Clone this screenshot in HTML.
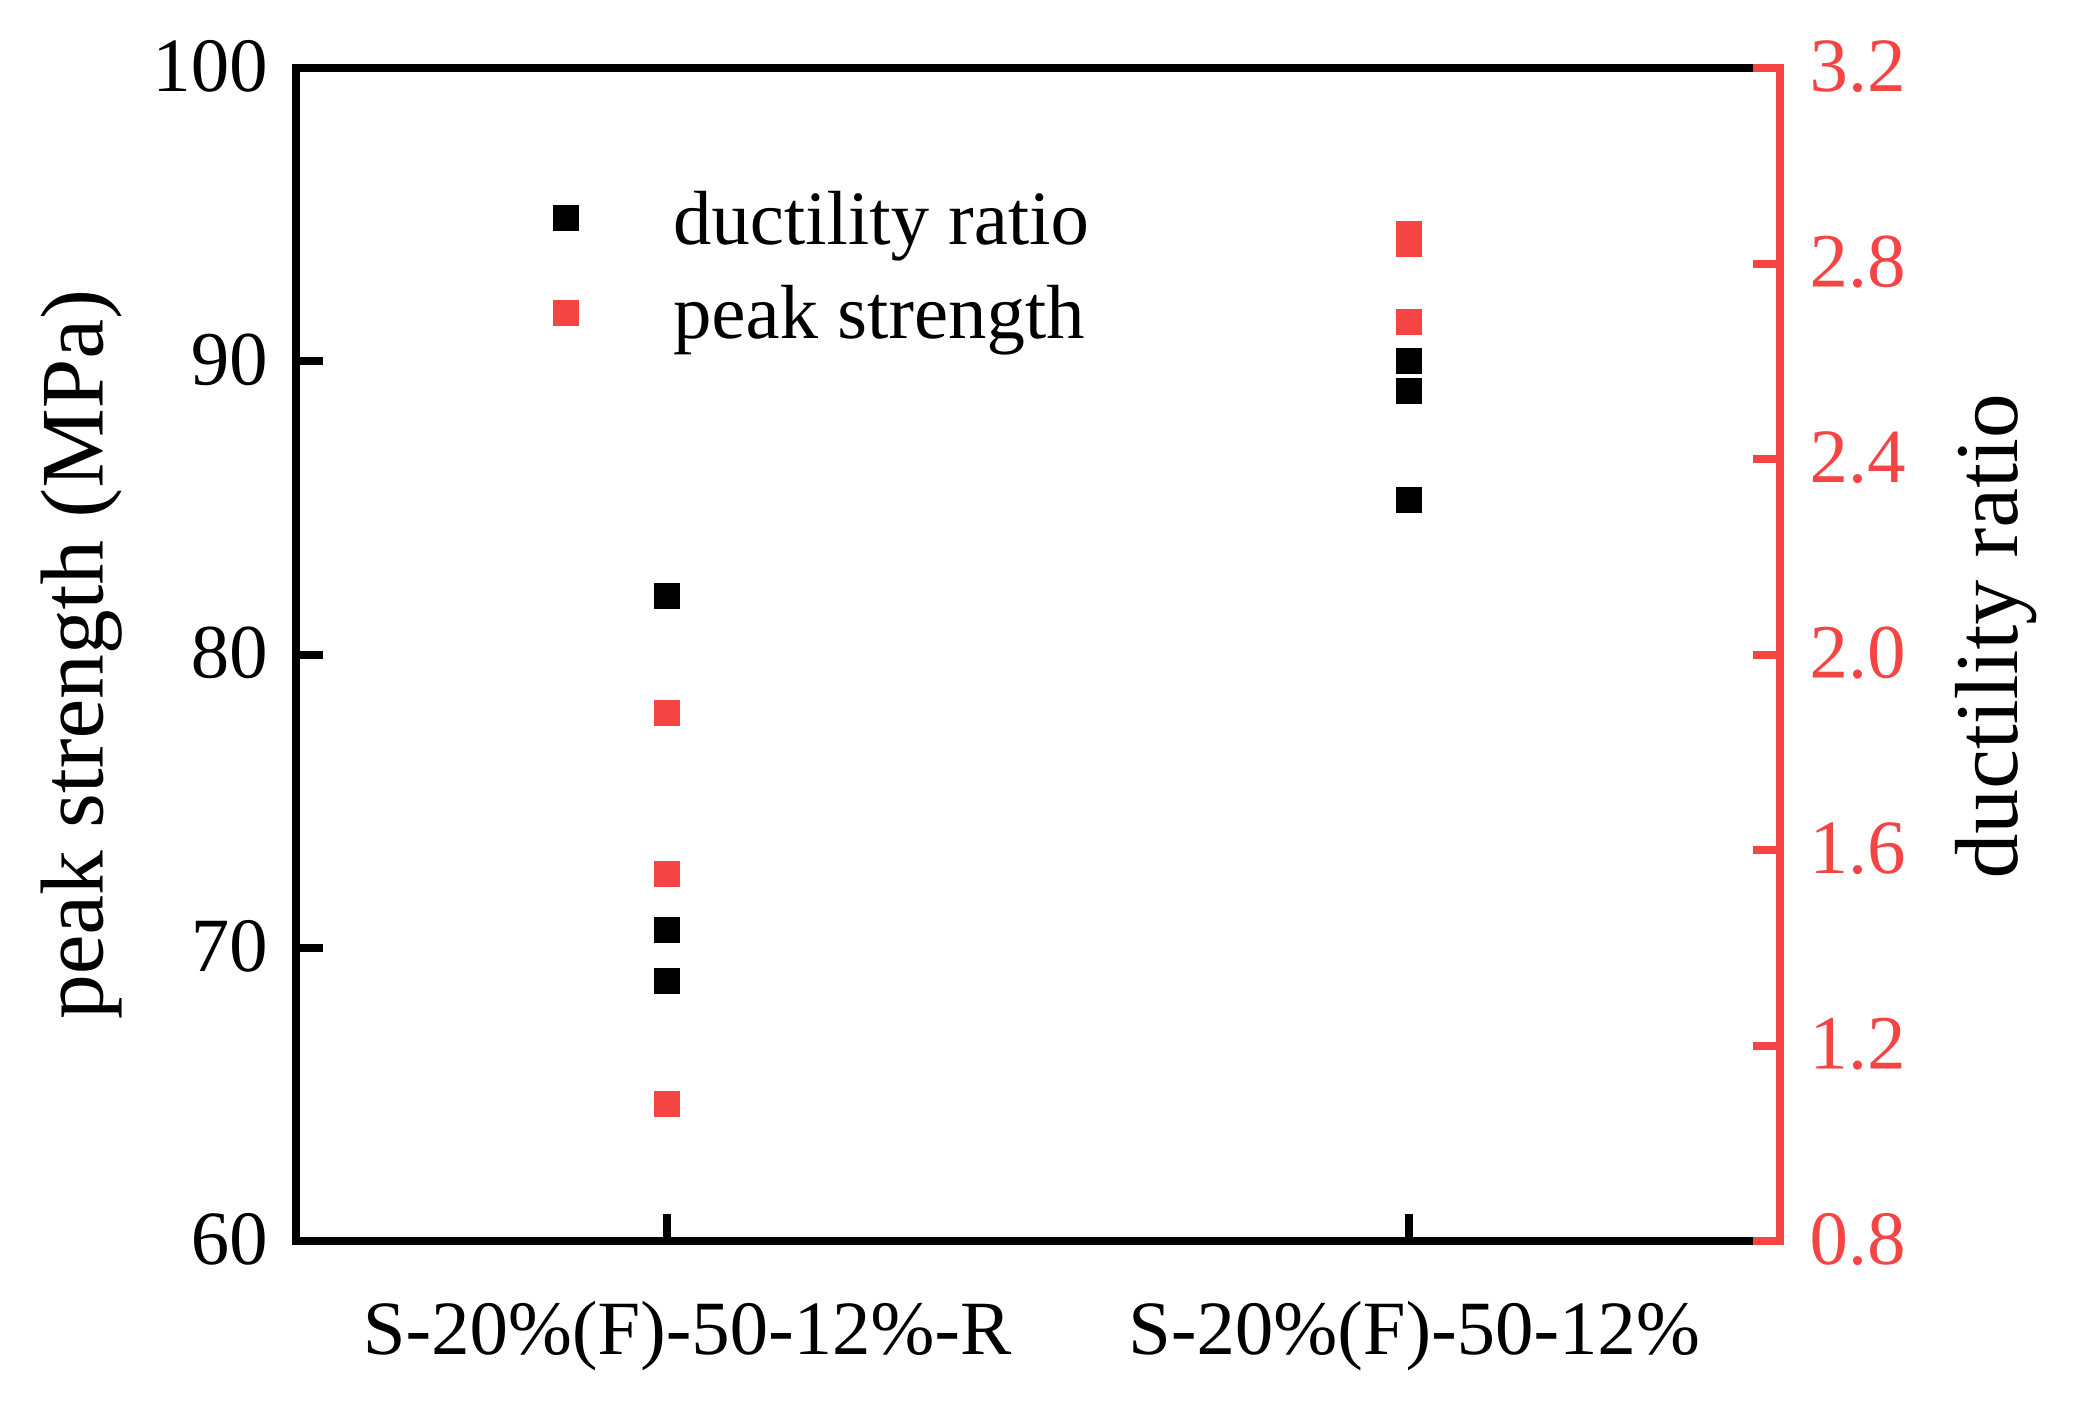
<!DOCTYPE html>
<html lang="en">
<head>
<meta charset="utf-8">
<title>Peak strength and ductility ratio</title>
<style>
html,body{margin:0;padding:0;background:#fff;}
svg{display:block;}
text{font-family:"Liberation Serif",serif;text-rendering:geometricPrecision;}
</style>
</head>
<body>
<svg id="chart" xmlns="http://www.w3.org/2000/svg" width="2073" height="1402" viewBox="0 0 2073 1402">
  <rect x="0" y="0" width="2073" height="1402" fill="#ffffff"/>
  <g id="axes" shape-rendering="crispEdges"></g>
  <g id="labels"></g>
  <g id="marks" shape-rendering="crispEdges"></g>
  <text transform="translate(102.7 1019) rotate(-90)" font-size="89.4" fill="#000">peak strength (MPa)</text>
  <text transform="translate(2017 878.5) rotate(-90)" font-size="89.6" fill="#000">ductility ratio</text>
  <g>
    <rect x="553" y="205" width="26" height="26" fill="#000" shape-rendering="crispEdges"/>
    <text x="673" y="244" font-size="76.8" fill="#000">ductility ratio</text>
    <rect x="553" y="300" width="26" height="26" fill="#f44444" shape-rendering="crispEdges"/>
    <text x="673" y="338" font-size="76.8" fill="#000">peak strength</text>
  </g>
</svg>
<script>
const categories = ["S-20%(F)-50-12%-R", "S-20%(F)-50-12%"];
const blackSeriesCategory0 = [82, 70.6, 68.87];
const blackSeriesCategory1 = [90, 89, 85.27];
const redSeriesCategory0 = [1.88, 1.55, 1.08];
const redSeriesCategory1 = [2.86, 2.84, 2.68];
const leftTicks = [60, 70, 80, 90, 100];
const rightTicks = ["0.8", "1.2", "1.6", "2.0", "2.4", "2.8", "3.2"];

const RED = "#f44444";
const BLACK = "#000000";
const NS = "http://www.w3.org/2000/svg";
const plotLeft = 296, plotRight = 1780, plotTop = 68, plotBottom = 1241;

function xScale(i) { return plotLeft + (plotRight - plotLeft) * (i + 0.5) / categories.length; }
function yLeft(v) { return plotBottom - (v - 60) / 40 * (plotBottom - plotTop); }
function yRight(v) { return plotBottom - (v - 0.8) / 2.4 * (plotBottom - plotTop); }

function make(tag, parent, attrs, content) {
  const el = document.createElementNS(NS, tag);
  for (const k in attrs) el.setAttribute(k, attrs[k]);
  if (content !== undefined) el.textContent = content;
  parent.appendChild(el);
  return el;
}

const axes = document.getElementById("axes");
const labels = document.getElementById("labels");
const marks = document.getElementById("marks");

const topBlack = make("rect", axes, {x: 292, y: 64, width: 1461, height: 8, fill: BLACK});


const bottomBlack = make("rect", axes, {x: 292, y: 1237, width: 1461, height: 8, fill: BLACK});


const leftLine = make("rect", axes, {x: 292, y: 64, width: 8, height: 1181, fill: BLACK});


const rightLine = make("rect", axes, {x: 1776, y: 64, width: 8, height: 1181, fill: RED});



leftTicks.forEach(function (v) {
  const y = yLeft(v);
  const tick = make("rect", axes, {x: 300, y: Math.round(y - 4), width: 23, height: 8, fill: BLACK});
  
  
  const label = make("text", labels, {x: 267.5, y: y + 23, "font-size": 76.8, "text-anchor": "end", fill: BLACK}, String(v));
  
  
});

rightTicks.forEach(function (t) {
  const y = yRight(parseFloat(t));
  const tick = make("rect", axes, {x: 1753, y: Math.round(y - 4), width: 23, height: 8, fill: RED});
  
  
  const label = make("text", labels, {x: 1809.5, y: y + 23, "font-size": 76.8, fill: RED}, t);
  
  
});

categories.forEach(function (c, i) {
  const x = xScale(i);
  const tick = make("rect", axes, {x: x - 4, y: 1214, width: 8, height: 23, fill: BLACK});
  
  
  const labelShift = i === 0 ? 20 : 5;
  const label = make("text", labels, {x: x + labelShift, y: 1354, "font-size": 76.8, "text-anchor": "middle", fill: BLACK}, c);
  
  
});

function drawMarker(cat, y, fill) {
  const r = make("rect", marks, {x: xScale(cat) - 13, y: Math.round(y - 13), width: 26, height: 26, fill: fill});
  return r;
}

[blackSeriesCategory0, blackSeriesCategory1].forEach(function (vals, cat) {
  vals.forEach(function (v) {
    const m = drawMarker(cat, yLeft(v), BLACK);
    
    
  });
});

[redSeriesCategory0, redSeriesCategory1].forEach(function (vals, cat) {
  vals.forEach(function (v) {
    const m = drawMarker(cat, yRight(v), RED);
    
    
  });
});
</script>
</body>
</html>
